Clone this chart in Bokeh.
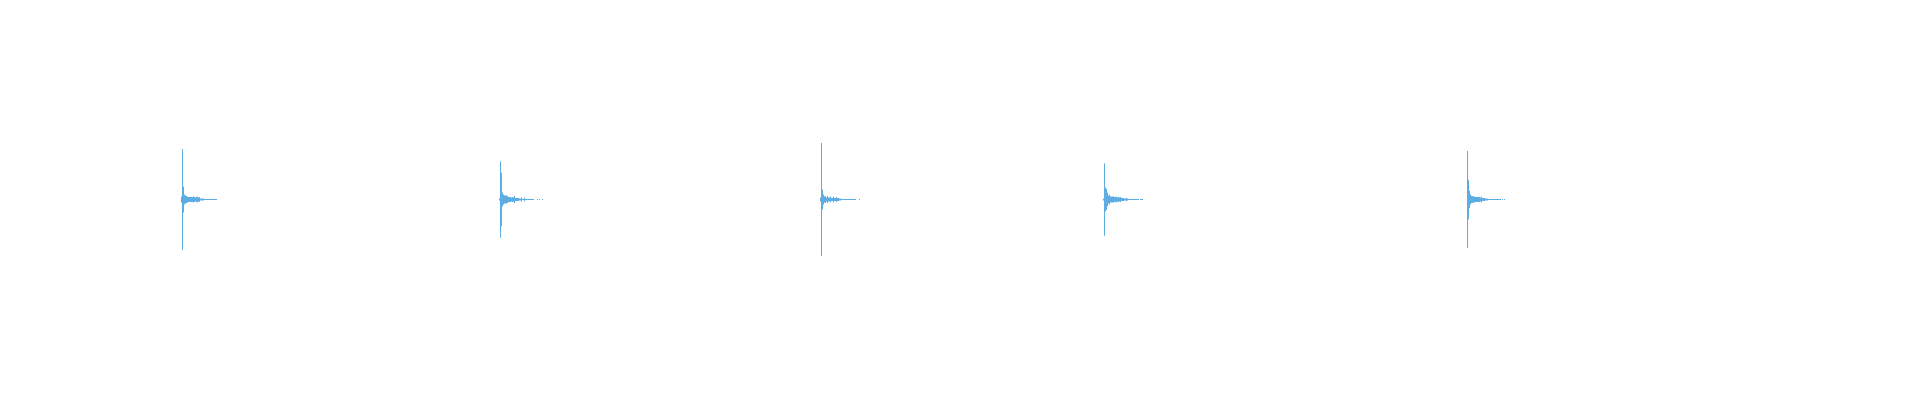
import numpy as np
from bokeh.plotting import figure, ColumnDataSource
from bokeh.models import Range1d
from bokeh.embed import file_html
from bokeh.resources import INLINE

wave_color = '#5DADE2'

# onset of each hit (time frame of the first non-zero sample)
hit_1_start = 181
hit_2_start = 499
hit_3_start = 820
hit_4_start = 1103
hit_5_start = 1467

# peak envelope per frame (normalised amplitude, loudest hit ~ 1.0)
hit_1_env = [0.054, 0.893, 0.232, 0.089, 0.071, 0.063, 0.054, 0.045, 0.045, 0.045,
             0.045, 0.045, 0.054, 0.045, 0.036, 0.045, 0.054, 0.036, 0.045, 0.018,
             0.018, 0.018, 0.018, 0.009, 0.009, 0.009, 0.009, 0.009, 0.009, 0.009,
             0.009, 0.009, 0.009, 0.009, 0.009, 0.009]
hit_2_env = [0.018, 0.679, 0.473, 0.125, 0.089, 0.071, 0.071, 0.071, 0.063, 0.045,
             0.045, 0.045, 0.036, 0.045, 0.036, 0.063, 0.027, 0.027, 0.027, 0.027,
             0.018, 0.018, 0.036, 0.009, 0.009, 0.036, 0.009, 0.009, 0.009, 0.009,
             0.009, 0.009, 0.009, 0.009, 0.009, 0.0, 0.0, 0.0, 0.009, 0.0,
             0.009, 0.0, 0.0, 0.009]
hit_3_env = [0.036, 1.0, 0.179, 0.089, 0.054, 0.063, 0.036, 0.063, 0.036, 0.036,
             0.054, 0.027, 0.027, 0.054, 0.027, 0.027, 0.045, 0.027, 0.027, 0.018,
             0.018, 0.009, 0.009, 0.009, 0.009, 0.009, 0.009, 0.009, 0.009, 0.009,
             0.009, 0.009, 0.009, 0.009, 0.009, 0.009, 0.0, 0.0, 0.0, 0.009]
hit_4_env = [0.018, 0.643, 0.214, 0.188, 0.120, 0.071, 0.089, 0.054, 0.054, 0.054,
             0.054, 0.045, 0.045, 0.054, 0.036, 0.045, 0.036, 0.045, 0.027, 0.027,
             0.027, 0.018, 0.018, 0.027, 0.018, 0.009, 0.009, 0.009, 0.009, 0.009,
             0.009, 0.009, 0.009, 0.009, 0.009, 0.009, 0.0, 0.009, 0.009, 0.009]
hit_5_env = [0.857, 0.348, 0.155, 0.089, 0.063, 0.063, 0.054, 0.054, 0.045, 0.045,
             0.045, 0.045, 0.045, 0.036, 0.054, 0.027, 0.027, 0.027, 0.018, 0.018,
             0.018, 0.009, 0.009, 0.009, 0.009, 0.009, 0.009, 0.009, 0.009, 0.009,
             0.009, 0.009, 0.009, 0.009, 0.0, 0.009, 0.0, 0.009]

hits = [(hit_1_start, hit_1_env), (hit_2_start, hit_2_env), (hit_3_start, hit_3_env),
        (hit_4_start, hit_4_env), (hit_5_start, hit_5_env)]

t = []
a = []
for start, env in hits:
    for k, v in enumerate(env):
        t.append(start + k)
        a.append(v)
t = np.array(t, dtype=float)
a = np.array(a)

source = ColumnDataSource(data=dict(left=t, right=t + 1, top=a, bottom=-a))

p = figure(width=1904, height=384, output_backend="svg", toolbar_location=None,
           x_axis_type=None, y_axis_type=None, min_border=0)
# half-frame offset keeps the 1-frame columns on whole pixels
p.x_range = Range1d(0.5, 1904.5)
p.y_range = Range1d(-3.276, 3.524)
p.quad(left='left', right='right', top='top', bottom='bottom', source=source,
       fill_color=wave_color, line_color=None)
# ------------------------
p.grid.visible = False
p.outline_line_color = None
p.background_fill_color = 'white'
p.border_fill_color = 'white'

open("out.html", "w").write(file_html(p, INLINE))
